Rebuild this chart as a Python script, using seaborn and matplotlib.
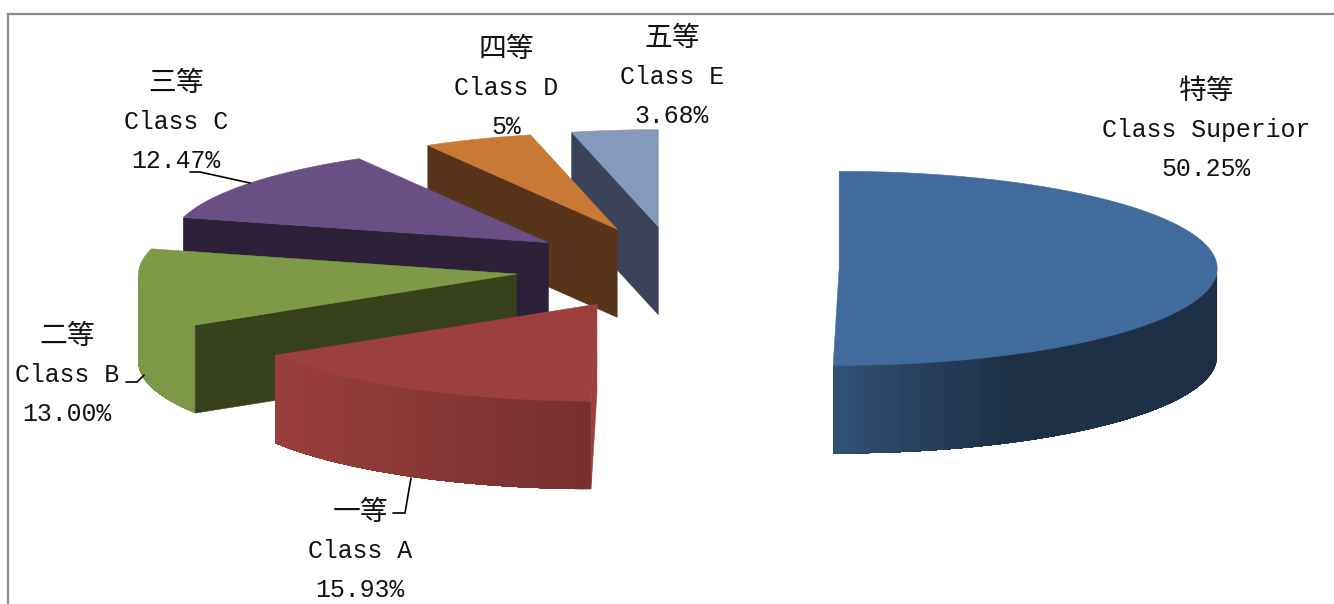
import numpy as np
import matplotlib
matplotlib.use('Agg')
import matplotlib.pyplot as plt
import seaborn as sns

# --- data ---
grades = ['特等', '一等', '二等', '三等', '四等', '五等']
classes = ['Class Superior', 'Class A', 'Class B', 'Class C', 'Class D', 'Class E']
shares = [50.25, 15.93, 13.00, 12.47, 4.67, 3.68]
share_labels = ['50.25%', '15.93%', '13.00%', '12.47%', '5%', '3.68%']

top_colors = ['#416B9C', '#9C3F3D', '#7F9A47', '#694F84', '#C87936', '#8599BC']
wall_colors = ['#2F5480', '#9C3F3D', '#37411B', '#2C2138', '#58341A', '#3A4357']

# --- pie geometry, in reference pixels ---
W, H = 1334, 604
OX, OY = 677, 268       # pie centre before explosion
RX, RY = 378, 97        # ellipse radii, the axes scale gives the tilt
DEPTH = 88 / RY
EXPLODE = 0.429


def px(x, y):
    return (x - OX) / RX, (OY - y) / RY


sns.set_theme(style='white')
plt.rcParams['font.family'] = ['Liberation Mono', 'Noto Sans CJK TC', 'DejaVu Sans']

fig = plt.figure(figsize=(W / 100, H / 100), dpi=100)
ax = fig.add_axes([8 / W, 0, (W - 8) / W, (H - 14) / H])
ax.set_xlim(px(8, 0)[0], px(W, 0)[0])
ax.set_ylim(px(0, H)[1], px(0, 14)[1])
ax.set_xticks([])
ax.set_yticks([])
for side in ['right', 'bottom']:
    ax.spines[side].set_visible(False)
for side in ['top', 'left']:
    ax.spines[side].set_color('#8C8C8C')
    ax.spines[side].set_linewidth(1.6)


def wall_shade(theta):
    # light comes from the left, curved wall gets darker to the right
    return np.interp(np.sin(theta), [-0.85, 0, 0.45, 1], [0.98, 0.76, 0.45, 0.45])


edges = np.radians(np.concatenate([[0], np.cumsum(shares)]) * 3.6)
slices = list(zip(edges[:-1], edges[1:], top_colors, wall_colors))

# back to front: Class E first, Superior last
for start, end, top, wall in [slices[i] for i in [5, 4, 3, 2, 1, 0]]:
    mid = (start + end) / 2
    cx, cy = EXPLODE * np.sin(mid), EXPLODE * np.cos(mid)
    t = np.linspace(start, end, 160)
    xs, ys = cx + np.sin(t), cy + np.cos(t)

    # curved outer wall, front half only; each strip runs on to the end of the
    # wall so the next one paints over it and no seams show
    rgb = np.array(matplotlib.colors.to_rgb(top))
    front = np.cos(t) <= 0
    if front.any():
        wx, wy, wt = xs[front], ys[front], t[front]
        for i in range(len(wt) - 1):
            ax.fill(np.r_[wx[i:], wx[i:][::-1]],
                    np.r_[wy[i:], wy[i:][::-1] - DEPTH],
                    color=rgb * wall_shade(wt[i]), lw=0, zorder=2)

    # flat wall on the cut that faces the viewer
    if np.sin(start) < 0:
        ex, ey = cx + np.sin(start), cy + np.cos(start)
        ax.fill([cx, ex, ex, cx], [cy, ey, ey - DEPTH, cy - DEPTH],
                color=wall, lw=0.4, zorder=2)

    # top face
    ax.fill(np.r_[cx, xs], np.r_[cy, ys], color=top, lw=0.4, zorder=2)

# --- labels ---
label_x = [1206, 360, 67, 176, 506, 672]
label_y = [92, 513, 337, 84, 50, 39]
for i in range(len(grades)):
    lines = [grades[i], classes[i], share_labels[i]]
    for j, line in enumerate(lines):
        x, y = px(label_x[i], label_y[i] + j * 38.5)
        ax.text(x, y, line, ha='center', va='center',
                fontsize=20 if j == 0 else 17.9, color='#111111', zorder=5)

# leader lines
leaders = [
    [(411, 478), (405, 513), (393, 513)],
    [(126, 382), (137, 382), (144, 375)],
    [(190, 172), (200, 172), (250, 183)],
]
for pts in leaders:
    lx, ly = zip(*[px(*p) for p in pts])
    ax.plot(lx, ly, color='black', lw=1.2, zorder=4)

plt.savefig('out.png', dpi=100)
